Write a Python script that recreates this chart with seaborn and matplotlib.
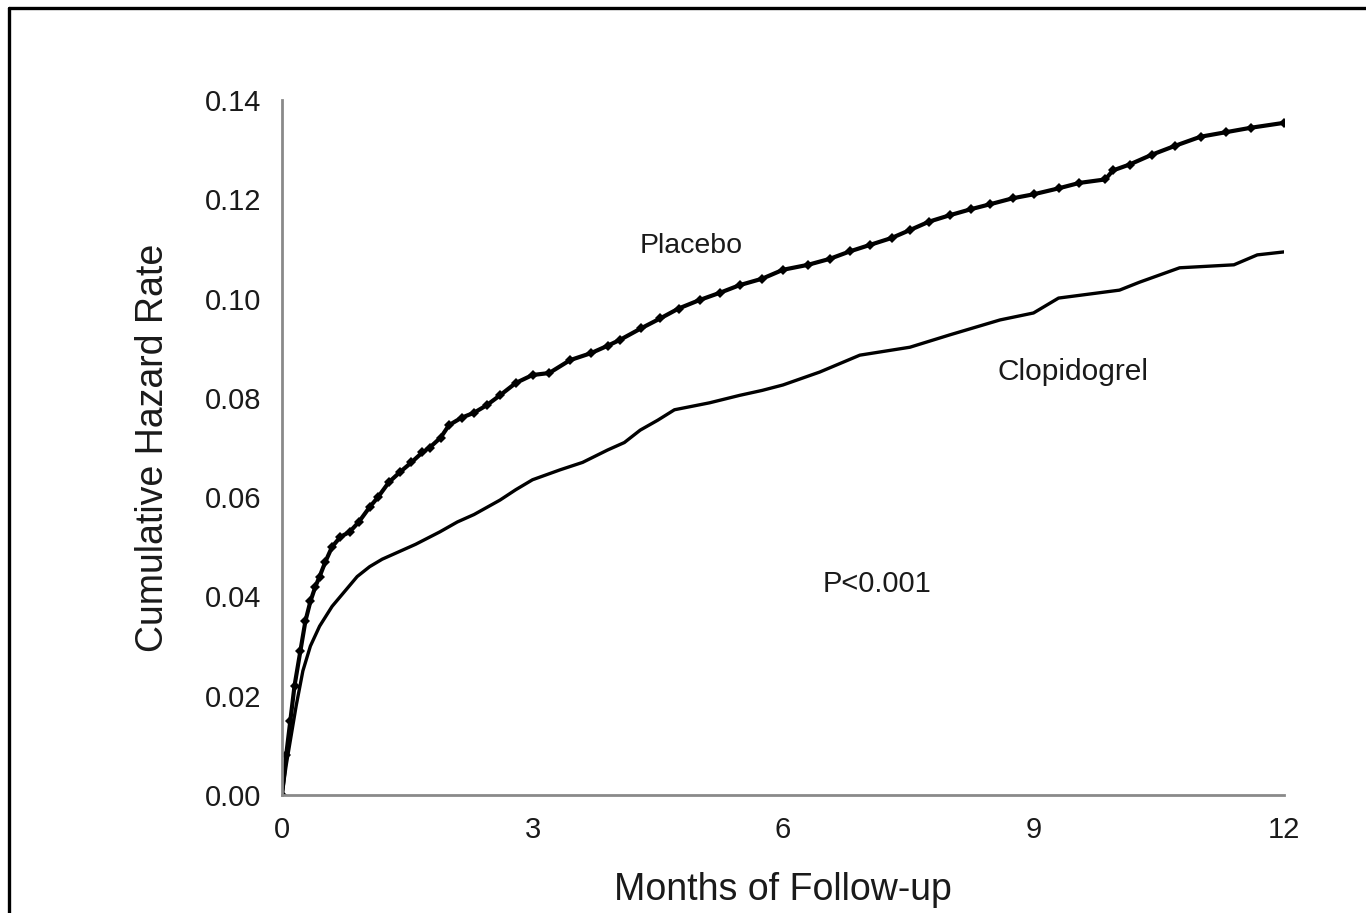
import matplotlib
matplotlib.use("Agg")
import matplotlib.pyplot as plt
import seaborn as sns
import numpy as np
from matplotlib.lines import Line2D

sns.set_theme(style="white")
plt.rcParams['font.family'] = ['Liberation Sans', 'DejaVu Sans']

placebo_months = [0, 0.05, 0.1, 0.15, 0.22, 0.28, 0.34, 0.4, 0.45, 0.52, 0.6, 0.7, 0.81, 0.92,
                  1.05, 1.15, 1.28, 1.41, 1.55, 1.68, 1.77, 1.9, 2.0, 2.15, 2.3, 2.45, 2.61,
                  2.8, 3.0, 3.2, 3.45, 3.7, 3.9, 4.05, 4.3, 4.53, 4.75, 5.0, 5.25, 5.48, 5.75,
                  6.0, 6.3, 6.56, 6.8, 7.04, 7.3, 7.52, 7.75, 8.0, 8.25, 8.48, 8.75, 9.0,
                  9.3, 9.55, 9.86, 9.95, 10.15, 10.42, 10.7, 11.0, 11.3, 11.6, 12.0]
placebo_rate = [0, 0.008, 0.015, 0.022, 0.029, 0.035, 0.039, 0.042, 0.044, 0.047, 0.050, 0.052,
                0.053, 0.055, 0.058, 0.060, 0.063, 0.065, 0.067, 0.069, 0.070, 0.072, 0.0745,
                0.076, 0.077, 0.0785, 0.0805, 0.083, 0.0846, 0.085, 0.0876, 0.089, 0.0905,
                0.0917, 0.094, 0.096, 0.098, 0.0997, 0.1012, 0.1027, 0.104, 0.1058, 0.1068,
                0.108, 0.1095, 0.1108, 0.1122, 0.1138, 0.1155, 0.1168, 0.118, 0.119, 0.1202,
                0.121, 0.1222, 0.1233, 0.124, 0.1258, 0.127, 0.129, 0.1308, 0.1326, 0.1335,
                0.1344, 0.1354]

clop_months = [0, 0.05, 0.1, 0.17, 0.25, 0.34, 0.45, 0.6, 0.75, 0.9, 1.05, 1.2, 1.4, 1.6, 1.89,
               2.1, 2.3, 2.61, 2.8, 3.0, 3.33, 3.6, 3.9, 4.1, 4.29, 4.5, 4.7, 5.12, 5.48, 5.75,
               6.0, 6.44, 6.92, 7.52, 8.0, 8.6, 9.0, 9.3, 10.03, 10.27, 10.75, 11.4, 11.68, 12.0]
clop_rate = [0, 0.006, 0.011, 0.018, 0.025, 0.030, 0.034, 0.038, 0.041, 0.044, 0.046, 0.0475,
             0.049, 0.0505, 0.053, 0.055, 0.0565, 0.0594, 0.0615, 0.0635, 0.0655, 0.067, 0.0695,
             0.071, 0.0735, 0.0755, 0.0776, 0.079, 0.0805, 0.0815, 0.0826, 0.0852, 0.0886,
             0.0902, 0.0927, 0.0957, 0.0971, 0.1001, 0.1017, 0.1033, 0.1062, 0.1068, 0.1088,
             0.1094]

x_ticks = [0, 3, 6, 9, 12]
y_ticks = [0.00, 0.02, 0.04, 0.06, 0.08, 0.10, 0.12, 0.14]

fig = plt.figure(figsize=(13.66, 9.13), dpi=100)
ax = fig.add_axes([282/1366, 1 - 795/913, (1284-282)/1366, (795-100)/913])

sns.lineplot(x=placebo_months, y=placebo_rate, ax=ax, color='black', linewidth=3.0,
             marker='D', markersize=5, markeredgewidth=0, sort=False, estimator=None)
sns.lineplot(x=clop_months, y=clop_rate, ax=ax, color='black', linewidth=2.4,
             sort=False, estimator=None)

ax.set_xlim(0, 12)
ax.set_ylim(0, 0.14)
ax.set_xticks(x_ticks)
ax.set_xticklabels([str(t) for t in x_ticks])
ax.set_yticks(y_ticks)
ax.set_yticklabels([f"{t:.2f}" for t in y_ticks])
for s in ['top', 'right']:
    ax.spines[s].set_visible(False)
for s in ['left', 'bottom']:
    ax.spines[s].set_color('#8a8a8a')
    ax.spines[s].set_linewidth(2)
ax.tick_params(axis='both', which='both', direction='out', length=7, width=1.6,
               color='#555555', labelsize=21, labelcolor='#1a1a1a', pad=8)
ax.set_xlabel("Months of Follow-up", fontsize=27, color='#1a1a1a', labelpad=20)
ax.set_ylabel("Cumulative Hazard Rate", fontsize=27, color='#1a1a1a', labelpad=24)
ax.set_facecolor('white')

ax.text(4.9, 0.1105, "Placebo", fontsize=20.5, ha='center', va='center', color='#1a1a1a')
ax.text(9.47, 0.0852, "Clopidogrel", fontsize=21.5, ha='center', va='center', color='#1a1a1a')
ax.text(7.13, 0.0425, "P<0.001", fontsize=21, ha='center', va='center', color='#1a1a1a')

# outer frame (left and top edges visible)
fig.add_artist(Line2D([9/1366, 9/1366], [-0.05, 1 - 8/913], transform=fig.transFigure,
                      color='black', linewidth=2.4))
fig.add_artist(Line2D([9/1366, 1.05], [1 - 8/913, 1 - 8/913], transform=fig.transFigure,
                      color='black', linewidth=2.4))

fig.savefig("out.png", dpi=100, facecolor='white')
